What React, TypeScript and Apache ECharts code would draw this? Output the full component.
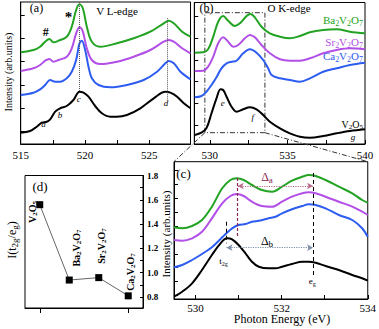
import React, { useEffect, useRef } from "react";
import * as echarts from "echarts";

type P = [number, number];

const SERIF = "'Liberation Serif', 'Times New Roman', 'DejaVu Serif', serif";
const GREEN = "#23a323";
const PURPLE = "#b24fe6";
const BLUE = "#2d5cf0";
const BLACK = "#000000";
const MAROON = "#8a2550";

// ---------- Panel (a): V L-edge ----------
const aXRange = [515, 528.2];
const aYRange = [0, 142];
const aV2O5: P[] = [[515,11.3],[515.73,13],[516.25,17.3],[516.64,21.3],[517.03,22.3],[517.29,24.7],[517.68,32.3],[518.06,35.7],[518.58,38],[519.1,44],[519.57,52.3],[519.88,51.3],[520.27,47.3],[520.79,38],[521.31,30.7],[521.96,27.3],[522.48,27.3],[523.26,29],[524.3,35.7],[525.34,45.7],[526.25,52.3],[526.64,51.3],[527.16,47.3],[527.68,40.7],[528.2,35.7]];
const aCa: P[] = [[515,49],[515.99,51.3],[516.51,54.7],[516.9,59],[517.29,64],[517.68,62.3],[518.06,62.3],[518.58,65.7],[518.97,72.3],[519.31,84],[519.57,100.7],[519.75,103.3],[520.01,94],[520.27,77.3],[520.53,65.7],[521.05,59],[521.96,56.7],[523.26,59],[524.56,64],[525.6,72.3],[526.25,80.7],[526.51,83],[526.9,80.7],[527.42,72.3],[528.2,64.7]];
const aSr: P[] = [[515,73],[515.99,75.7],[516.51,79],[516.9,83.3],[517.23,85],[517.55,82.3],[517.94,84],[518.58,87.3],[518.97,95.7],[519.31,110.7],[519.57,116.7],[519.83,112.3],[520.14,95.7],[520.53,84],[521.18,80],[522.48,82.3],[523.78,87.3],[525.08,94],[526.12,102.3],[526.51,104],[526.9,102.3],[527.55,95.7],[528.2,90.7]];
const aBa: P[] = [[515,91.7],[515.99,94],[516.51,97.3],[516.9,102.3],[517.23,105],[517.55,101.7],[517.94,103.3],[518.58,107.3],[518.97,117.3],[519.31,134],[519.57,139.7],[519.83,135.7],[520.14,117.3],[520.53,102.3],[521.18,97.3],[522.48,100.7],[523.78,105.7],[525.08,112.3],[526.12,120.7],[526.51,123.3],[526.9,120.7],[527.55,112.3],[528.2,107.3]];
const aTicksX = [515, 517.5, 520, 522.5, 525];
const aLabelsX = [515, 520, 525];
const aTicksY = [12.3, 35.7, 59, 82.3, 105.7, 129];
const aPeakLines = [[519.57, 142, 52.3], [526.38, 125.7, 44]];

// ---------- Panel (b): O K-edge ----------
const bXRange = [529, 540];
const bYRange = [0, 141.5];
const bV2O5: P[] = [[529.03,9],[529.46,11.3],[529.78,15.7],[530.11,30.7],[530.43,45.7],[530.69,54.7],[530.86,54],[531.08,47.3],[531.4,37.3],[531.72,32.3],[532.15,34.7],[532.58,36.7],[533.01,34.7],[533.44,29],[533.87,22.3],[534.52,15.7],[535.16,10.7],[535.81,7.3],[536.45,6.3],[537.31,8],[538.17,10.7],[539.03,13],[540,14.7]];
const bCa: P[] = [[529.03,46.7],[529.46,48],[529.78,52.3],[530.11,59],[530.43,66.7],[530.75,75.7],[531.08,80.7],[531.4,82.3],[531.72,83.3],[532.15,90.7],[532.58,94.7],[533.01,91.3],[533.44,84],[533.76,75.7],[533.98,69],[534.52,65.7],[535.16,64],[535.81,62.3],[536.45,65.7],[537.31,72.3],[538.17,75.7],[539.03,79],[540,81.3]];
const bSr: P[] = [[529.03,73],[529.57,73.3],[529.89,77.3],[530.22,87.3],[530.54,100.7],[530.86,106.7],[531.18,102.3],[531.51,97.3],[531.83,99],[532.26,105.7],[532.58,109],[532.9,106.7],[533.33,99],[533.87,90.7],[534.52,84.7],[535.16,83.3],[535.81,83.3],[536.45,85.7],[537.31,90.7],[538.17,94],[539.03,95.7],[540,94.7]];
const bBa: P[] = [[529.03,91.3],[529.57,91.7],[529.89,94.7],[530.22,107.3],[530.54,122.3],[530.86,128],[531.18,123.3],[531.61,118],[531.94,120.7],[532.37,128],[532.62,130],[532.9,126.7],[533.33,117.3],[533.87,110.7],[534.52,107.3],[535.16,105.7],[535.81,108],[536.45,111.7],[537.31,114],[538.17,114.7],[539.03,112.3],[540,110.7]];
const bTicksX = [530, 532.5, 535, 537.5, 540];
const bLabelsX = [530, 535, 540];
const bTicksY = [19, 40.7, 62.3, 84, 105.7, 127.3];
const bZoomBoxX = [529.68, 533.55];
const bZoomBoxY = [11.3, 131.3];

// ---------- Panel (c): zoom of O K-edge ----------
const cXRange = [529.5, 534];
const cYRange = [0, 137.3];
const cV2O5: P[] = [[529.5,2.3],[529.69,7.3],[529.92,15.7],[530.15,29],[530.38,44],[530.58,55.7],[530.73,60.7],[530.85,59.7],[531.0,54],[531.16,45.7],[531.31,37.3],[531.47,32.3],[531.7,30.7],[531.86,30.7],[532.01,32.3],[532.24,35],[532.48,37.3],[532.63,37.3],[532.79,36.3],[533.02,33],[533.33,29],[533.64,24],[533.87,20.7],[534,18.3]];
const cCa: P[] = [[529.5,31.7],[529.69,34],[529.92,39],[530.15,45],[530.38,51.7],[530.62,61.7],[530.73,66.3],[530.85,70.7],[531.0,74],[531.16,75],[531.31,77.3],[531.47,78.3],[531.7,80.7],[531.86,82.3],[532.01,85.7],[532.24,89.7],[532.48,93],[532.63,94.7],[532.79,94],[533.02,90.7],[533.33,84],[533.64,79],[533.87,70.7],[534,62.3]];
const cSr: P[] = [[529.5,59],[529.69,58.3],[529.92,60.7],[530.15,67.3],[530.38,80.7],[530.62,95.7],[530.81,103],[530.96,105],[531.12,103],[531.31,97.3],[531.54,93],[531.78,92.3],[532.01,97.3],[532.24,102.3],[532.48,105.7],[532.63,106.7],[532.79,105.7],[533.02,102.3],[533.33,97.3],[533.64,92.3],[533.87,87.3],[534,84]];
const cBa: P[] = [[529.5,71.7],[529.69,70.7],[529.92,73],[530.15,79],[530.38,92.3],[530.62,110.7],[530.81,119],[530.96,120.7],[531.12,119],[531.31,114],[531.54,109],[531.78,107.3],[532.01,112.3],[532.24,118.3],[532.48,122.3],[532.63,124],[532.79,123],[533.02,119],[533.33,112.3],[533.64,105.7],[533.87,99],[534,96.3]];
const cTicksX = [530, 531, 532, 533, 534];
const cLabelsX = [530, 532, 534];
const cTicksY = [3.5, 17.4, 31.3, 45.2, 59.1, 73, 86.9, 100.8, 114.7, 128.6];
const cT2g = 530.72;
const cT2gLine = [77.3, 55.7];
const cEg = 532.73;
const cEgLine = [126, 24];
const cDaX = 530.98;
const cDaLine = [121, 62];
const cDaArrowY = 113;
const cDbArrowY = 51.3;

// ---------- Panel (d): intensity ratio ----------
const dCategories = ["V2O5", "Ba2V2O7", "Sr2V2O7", "Ca2V2O7"];
const dRatio = [1.56, 0.94, 0.96, 0.81];
const dYRange = [0.71, 1.8];
const dLabelsY = [0.8, 1.0, 1.2, 1.4, 1.6, 1.8];
const dTicksY = [0.8, 0.9, 1.0, 1.1, 1.2, 1.3, 1.4, 1.5, 1.6, 1.7, 1.8];

const GRIDS = [
  { left: 20.7, top: 2, width: 169.8, height: 142 },
  { left: 194.3, top: 2.5, width: 170.7, height: 141.5 },
  { left: 174, top: 161.7, width: 194, height: 137.3 },
  { left: 25, top: 175.5, width: 118, height: 132.5 },
];

function curve(name: string, data: P[], color: string, g: number, extra: any = {}) {
  return {
    name, type: "line", data, xAxisIndex: g, yAxisIndex: g, showSymbol: false, symbol: "none",
    smooth: 0.35, lineStyle: { color, width: 2 }, itemStyle: { color }, silent: true, z: 3, ...extra,
  };
}

function xAxisOf(g: number, range: number[], ticks: number[], labels: number[], margin: number) {
  return {
    gridIndex: g, type: "value", min: range[0], max: range[1],
    axisLine: { show: true, lineStyle: { color: "#000", width: 1 } },
    axisTick: { show: true, inside: true, length: 4, customValues: ticks, lineStyle: { color: "#000" } },
    axisLabel: { show: true, customValues: labels, color: "#000", fontFamily: SERIF, fontSize: 11, margin },
    splitLine: { show: false },
  };
}
function yAxisOf(g: number, range: number[], ticks: number[]) {
  return {
    gridIndex: g, type: "value", min: range[0], max: range[1],
    axisLine: { show: true, lineStyle: { color: "#000", width: 1 } },
    axisTick: { show: true, inside: true, length: 4, customValues: ticks, lineStyle: { color: "#000" } },
    axisLabel: { show: false },
    splitLine: { show: false },
  };
}

function txt(text: string, x: number, y: number, o: any = {}) {
  const fs = o.fs || 11;
  const color = o.color || "#000";
  const weight = o.bold ? "bold" : "normal";
  const sfs = Math.round(fs * 0.72);
  return {
    type: "text", x, y, rotation: o.rot ? Math.PI / 2 : 0, silent: true, z: 100,
    style: {
      text, fill: color, fontSize: fs, fontFamily: SERIF, fontWeight: weight,
      fontStyle: o.italic ? "italic" : "normal", align: o.align || "center", verticalAlign: "middle",
      lineHeight: fs + 3,
      rich: {
        s: { fontSize: sfs, fontFamily: SERIF, fontWeight: weight, fill: color, verticalAlign: "bottom", lineHeight: sfs },
      },
    },
  };
}

function buildOption() {
  const box: P[] = [
    [bZoomBoxX[0], bZoomBoxY[0]], [bZoomBoxX[0], bZoomBoxY[1]], [bZoomBoxX[1], bZoomBoxY[1]],
    [bZoomBoxX[1], bZoomBoxY[0]], [bZoomBoxX[0], bZoomBoxY[0]],
  ];
  const arrowEnd = (c: P) => ({ coord: c, symbol: "arrow", symbolSize: [5, 6] });
  return {
    animation: false,
    backgroundColor: "#ffffff",
    textStyle: { fontFamily: SERIF },
    grid: GRIDS.map((g) => ({ ...g, show: true, borderColor: "#000", borderWidth: 1, backgroundColor: "transparent", containLabel: false })),
    xAxis: [
      xAxisOf(0, aXRange, aTicksX, aLabelsX, 5),
      xAxisOf(1, bXRange, bTicksX, bLabelsX, 5),
      xAxisOf(2, cXRange, cTicksX, cLabelsX, 3),
      {
        gridIndex: 3, type: "category", data: dCategories, boundaryGap: true,
        axisLine: { show: true, lineStyle: { color: "#000" } },
        axisTick: { show: true, inside: false, alignWithLabel: true, length: 5, lineStyle: { color: "#000" } },
        axisLabel: { show: false }, splitLine: { show: false },
      },
    ],
    yAxis: [
      yAxisOf(0, aYRange, aTicksY),
      yAxisOf(1, bYRange, bTicksY),
      yAxisOf(2, cYRange, cTicksY),
      {
        gridIndex: 3, type: "value", position: "right", min: dYRange[0], max: dYRange[1],
        axisLine: { show: true, lineStyle: { color: "#000" } },
        axisTick: { show: true, inside: true, length: 3, customValues: dTicksY, lineStyle: { color: "#000" } },
        axisLabel: {
          show: true, customValues: dLabelsY, color: "#000", fontFamily: SERIF, fontSize: 9, fontWeight: "bold", margin: 4,
          formatter: (v: number) => v.toFixed(1),
        },
        splitLine: { show: false },
      },
    ],
    series: [
      curve("V2O5 (a)", aV2O5, BLACK, 0, {
        markLine: {
          silent: true, symbol: "none", label: { show: false },
          lineStyle: { type: "dotted", color: "#555", width: 1 },
          data: aPeakLines.map((l) => [{ coord: [l[0], l[1]] }, { coord: [l[0], l[2]] }]),
        },
      }),
      curve("Ca2V2O7 (a)", aCa, BLUE, 0),
      curve("Sr2V2O7 (a)", aSr, PURPLE, 0),
      curve("Ba2V2O7 (a)", aBa, GREEN, 0),
      curve("V2O5 (b)", bV2O5, BLACK, 1),
      curve("Ca2V2O7 (b)", bCa, BLUE, 1),
      curve("Sr2V2O7 (b)", bSr, PURPLE, 1),
      curve("Ba2V2O7 (b)", bBa, GREEN, 1),
      {
        name: "zoom box", type: "line", data: box, xAxisIndex: 1, yAxisIndex: 1, showSymbol: false, symbol: "none",
        lineStyle: { color: "#333", width: 1, type: [5, 2, 1, 2] }, silent: true, z: 2,
      },
      curve("V2O5 (c)", cV2O5, BLACK, 2, {
        markLine: {
          silent: true, symbol: "none", label: { show: false },
          lineStyle: { type: [4, 3], color: "#000", width: 1 },
          data: [
            [{ coord: [cT2g, cT2gLine[0]] }, { coord: [cT2g, cT2gLine[1]] }],
            [{ coord: [cEg, cEgLine[0]] }, { coord: [cEg, cEgLine[1]] }],
            [{ coord: [cDaX, cDaLine[0]], lineStyle: { type: [3, 2], color: MAROON, width: 1.2 } }, { coord: [cDaX, cDaLine[1]] }],
            [
              { ...arrowEnd([cDaX, cDaArrowY]), lineStyle: { type: "dotted", color: "#b86a8a", width: 1.2 } },
              arrowEnd([cEg, cDaArrowY]),
            ],
            [
              { ...arrowEnd([cT2g, cDbArrowY]), lineStyle: { type: "dotted", color: "#7d8ea8", width: 1.2 } },
              arrowEnd([cEg, cDbArrowY]),
            ],
          ],
        },
      }),
      curve("Ca2V2O7 (c)", cCa, BLUE, 2),
      curve("Sr2V2O7 (c)", cSr, PURPLE, 2),
      curve("Ba2V2O7 (c)", cBa, GREEN, 2),
      {
        name: "I(t2g/eg)", type: "line", data: dRatio, xAxisIndex: 3, yAxisIndex: 3,
        symbol: "rect", symbolSize: 7, showSymbol: true, itemStyle: { color: "#000" },
        lineStyle: { color: "#666", width: 1 }, silent: true, z: 3,
      },
    ],
  };
}

function buildGraphics(chart: any) {
  const px = (g: number, x: number, y: number): number[] => chart.convertToPixel({ gridIndex: g }, [x, y]);
  const at = (g: number, x: number, y: number, text: string, o: any = {}) => {
    const p = px(g, x, y);
    return txt(text, p[0], p[1], o);
  };
  const bl = px(1, bZoomBoxX[0], bZoomBoxY[0]);
  const br = px(1, bZoomBoxX[1], bZoomBoxY[0]);
  const ctl = px(2, cXRange[0], cYRange[1]);
  const ctr = px(2, cXRange[1], cYRange[1]);
  const dd = { stroke: "#333", lineWidth: 1, lineDash: [5, 2, 1, 2] };
  return [
    { type: "line", silent: true, z: 50, shape: { x1: bl[0], y1: bl[1], x2: ctl[0], y2: ctl[1] }, style: dd },
    { type: "line", silent: true, z: 50, shape: { x1: br[0], y1: br[1], x2: ctr[0], y2: ctr[1] }, style: dd },
    // panel a
    txt("(a)", 36.5, 7.5, { fs: 12 }),
    txt("V L-edge", 117, 10.5, { fs: 11 }),
    at(0, 516.95, 111.7, "#", { fs: 12, bold: true }),
    at(0, 518.71, 127, "*", { fs: 15, bold: true }),
    at(0, 516.77, 19.7, "a", { fs: 9, italic: true }),
    at(0, 518.06, 29, "b", { fs: 9, italic: true }),
    at(0, 519.52, 45, "c", { fs: 9, italic: true }),
    at(0, 526.3, 41.3, "d", { fs: 9, italic: true }),
    txt("Intensity (arb.units)", 8, 72, { fs: 10, rot: true }),
    // panel b
    txt("(b)", 206.5, 8, { fs: 12 }),
    txt("O K-edge", 289, 8, { fs: 11 }),
    txt("Ba{s|2}V{s|2}O{s|7}", 363, 20, { fs: 11, color: GREEN, align: "right" }),
    txt("Sr{s|2}V{s|2}O{s|7}", 363, 42, { fs: 11, color: PURPLE, align: "right" }),
    txt("Ca{s|2}V{s|2}O{s|7}", 363, 56, { fs: 11, color: BLUE, align: "right" }),
    txt("V{s|2}O{s|5}", 363, 124, { fs: 10, align: "right" }),
    at(1, 530.84, 41, "e", { fs: 9, italic: true }),
    at(1, 532.77, 27, "f", { fs: 9, italic: true }),
    at(1, 539.23, 7, "g", { fs: 9, italic: true }),
    // panel c
    txt("(c)", 183.5, 173, { fs: 13 }),
    at(2, 531.66, 122.3, "Δ{s|a}", { fs: 12, color: MAROON }),
    at(2, 531.66, 58, "Δ{s|b}", { fs: 12 }),
    at(2, 530.65, 38, "t{s|2g}", { fs: 9 }),
    at(2, 532.71, 18, "e{s|g}", { fs: 9 }),
    txt("Intensity (arb.units)", 166, 234, { fs: 11, rot: true }),
    txt("Photon Energy (eV)", 282, 319, { fs: 12 }),
    // panel d
    txt("(d)", 40, 186, { fs: 13 }),
    txt("I(t{s|2g}/e{s|g})", 12, 240, { fs: 12, rot: true }),
    txt("V{s|2}O{s|5}", 32, 212, { fs: 10, bold: true, rot: true }),
    txt("Ba{s|2}V{s|2}O{s|7}", 76, 248, { fs: 10, bold: true, rot: true }),
    txt("Sr{s|2}V{s|2}O{s|7}", 101, 246, { fs: 10, bold: true, rot: true }),
    txt("Ca{s|2}V{s|2}O{s|7}", 130, 272, { fs: 10, bold: true, rot: true }),
  ];
}

export default function App() {
  const ref = useRef<HTMLDivElement>(null);
  useEffect(() => {
    document.body.style.margin = "0";
    const chart = echarts.init(ref.current as HTMLDivElement, null, { renderer: "svg", width: 379, height: 329 });
    chart.setOption(buildOption() as any);
    chart.setOption({ graphic: buildGraphics(chart) } as any);
    return () => chart.dispose();
  }, []);
  return (
    <div
      ref={ref}
      style={{ width: 379, height: 329, position: "absolute", left: 0, top: 0, background: "#fff" }}
    />
  );
}
